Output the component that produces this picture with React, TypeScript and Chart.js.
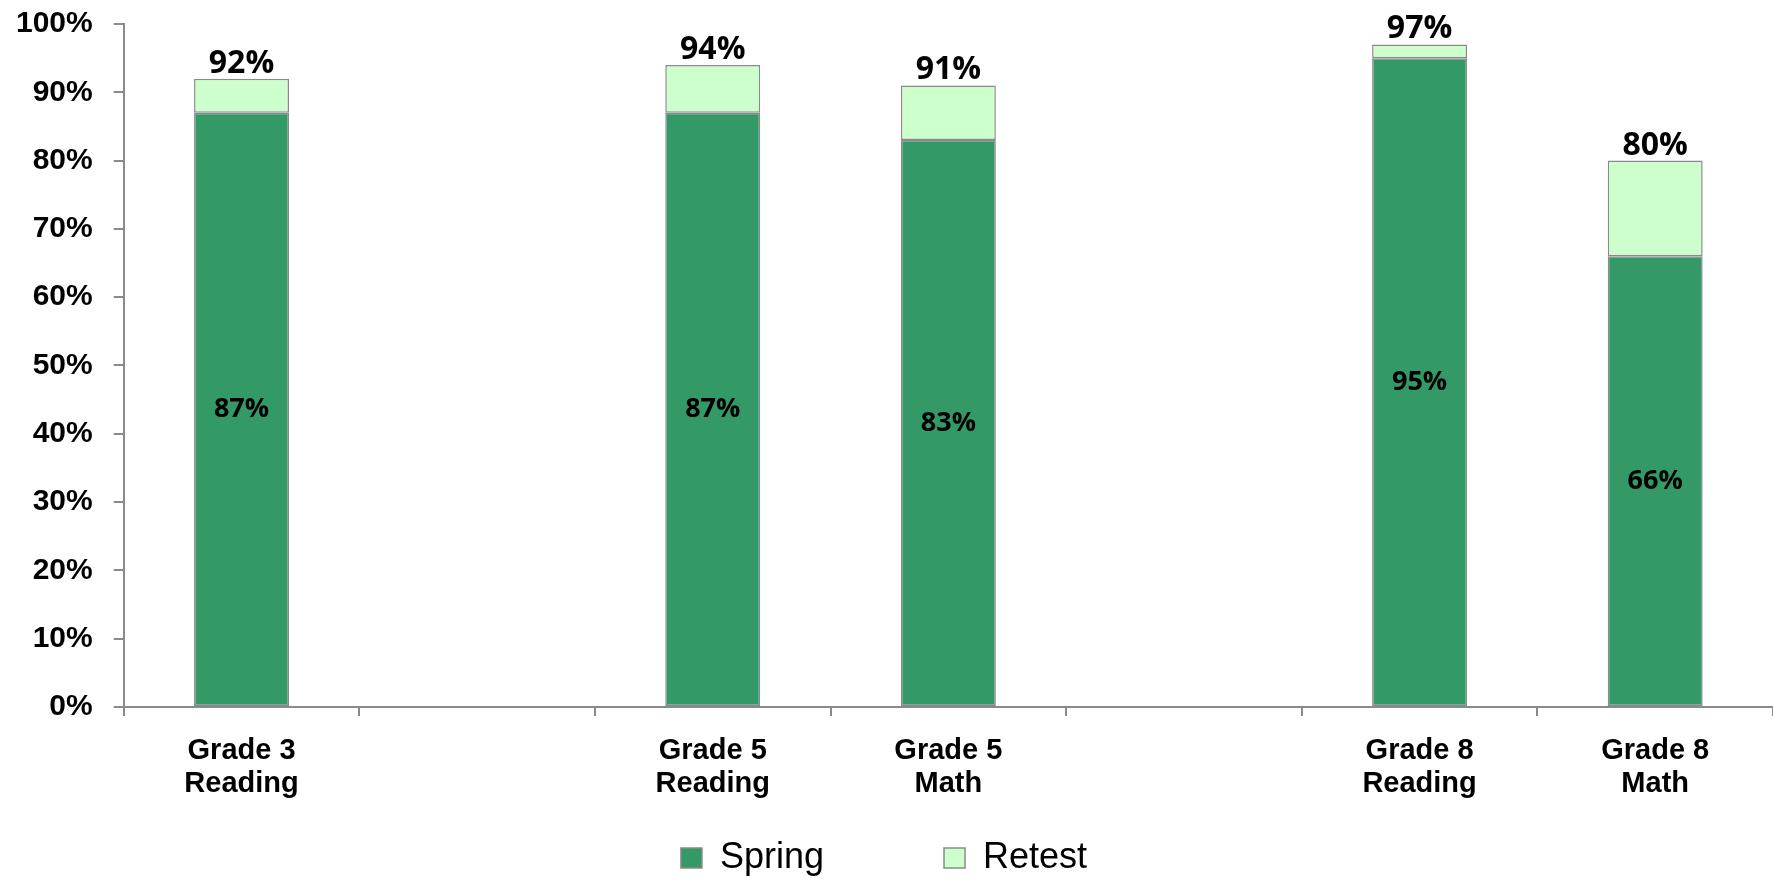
import React, { useEffect, useRef } from "react";
import { Chart, registerables } from "chart.js";

Chart.register(...registerables);

const categories: string[][] = [
  ["Grade 3", "Reading"],
  [""],
  ["Grade 5", "Reading"],
  ["Grade 5", "Math"],
  [""],
  ["Grade 8", "Reading"],
  ["Grade 8", "Math"],
];
const springValues: (number | null)[] = [87, null, 87, 83, null, 95, 66];
const retestValues: (number | null)[] = [5, null, 7, 8, null, 2, 14];
const yTicks: number[] = [0, 10, 20, 30, 40, 50, 60, 70, 80, 90, 100];
const seriesNames = ["Spring", "Retest"];

const SPRING_COLOR = "#339966";
const RETEST_COLOR = "#CCFFCC";
const BORDER = "#8a8a8a";

const valueLabels = {
  id: "valueLabels",
  afterDatasetsDraw(chart: any) {
    const ctx = chart.ctx;
    const springMeta = chart.getDatasetMeta(0);
    const retestMeta = chart.getDatasetMeta(1);
    ctx.save();
    ctx.fillStyle = "#000";
    ctx.textAlign = "center";
    springMeta.data.forEach((bar: any, i: number) => {
      const v = springValues[i];
      if (v == null) return;
      const p = bar.getProps(["x", "y", "base"], true);
      ctx.font = 'bold 27px "Open Sans"';
      ctx.textBaseline = "middle";
      ctx.fillText(v + "%", p.x, (p.y + p.base) / 2);
    });
    retestMeta.data.forEach((bar: any, i: number) => {
      const s = springValues[i];
      const r = retestValues[i];
      if (s == null || r == null) return;
      const p = bar.getProps(["x", "y", "base"], true);
      ctx.font = 'bold 32px "Open Sans"';
      ctx.textBaseline = "alphabetic";
      ctx.fillText(s + r + "%", p.x, p.y - 6);
    });
    ctx.restore();
  },
};

export default function App() {
  const canvasRef = useRef<HTMLCanvasElement | null>(null);

  useEffect(() => {
    if (!canvasRef.current) return;
    const chart = new Chart(canvasRef.current, {
      type: "bar",
      data: {
        labels: categories as any,
        datasets: [
          {
            label: seriesNames[0],
            data: springValues,
            backgroundColor: SPRING_COLOR,
            borderColor: BORDER,
            borderWidth: 1.5,
            borderSkipped: false,
            categoryPercentage: 1,
            barPercentage: 0.403,
          },
          {
            label: seriesNames[1],
            data: retestValues,
            backgroundColor: RETEST_COLOR,
            borderColor: BORDER,
            borderWidth: 1.5,
            borderSkipped: false,
            categoryPercentage: 1,
            barPercentage: 0.403,
          },
        ],
      },
      options: {
        responsive: false,
        maintainAspectRatio: false,
        animation: false,
        layout: { padding: { top: 24, left: -5, right: 0, bottom: -8 } },
        plugins: {
          tooltip: { enabled: false },
          legend: {
            position: "bottom",
            labels: {
              boxWidth: 21,
              boxHeight: 20,
              padding: 20,
              color: "#000",
              font: { family: "Liberation Sans", size: 36, weight: "normal" },
              generateLabels(chart: any) {
                return chart.data.datasets.map((ds: any, i: number) => ({
                  text: i === 0 ? ds.label + "          " : ds.label,
                  fillStyle: ds.backgroundColor,
                  strokeStyle: BORDER,
                  lineWidth: 1.5,
                  hidden: false,
                  datasetIndex: i,
                  fontColor: "#000",
                }));
              },
            },
          },
        },
        scales: {
          x: {
            stacked: true,
            grid: {
              drawOnChartArea: false,
              drawTicks: true,
              tickLength: 9,
              color: BORDER,
              lineWidth: 2,
            },
            border: { display: true, color: BORDER, width: 2 },
            ticks: {
              autoSkip: false,
              maxRotation: 0,
              minRotation: 0,
              padding: 19,
              color: "#000",
              font: { family: "Liberation Sans", size: 29, weight: "bold", lineHeight: 1.14 },
            },
          },
          y: {
            stacked: true,
            min: 0,
            max: 100,
            afterBuildTicks(axis: any) {
              axis.ticks = yTicks.map((v) => ({ value: v }));
            },
            grid: {
              drawOnChartArea: false,
              drawTicks: true,
              tickLength: 10,
              color: BORDER,
              lineWidth: 2,
            },
            border: { display: true, color: BORDER, width: 2 },
            ticks: {
              padding: 21,
              color: "#000",
              font: { family: "Liberation Sans", size: 30, weight: "bold", lineHeight: 0.2 },
              callback: (v: any) => v + "%",
            },
          },
        },
      },
      plugins: [valueLabels],
    } as any);
    return () => chart.destroy();
  }, []);

  return (
    <div style={{ position: "fixed", left: 0, top: 0, width: 1773, height: 878, background: "#fff" }}>
      <canvas ref={canvasRef} width={1773} height={878} style={{ width: 1773, height: 878, display: "block" }} />
    </div>
  );
}
